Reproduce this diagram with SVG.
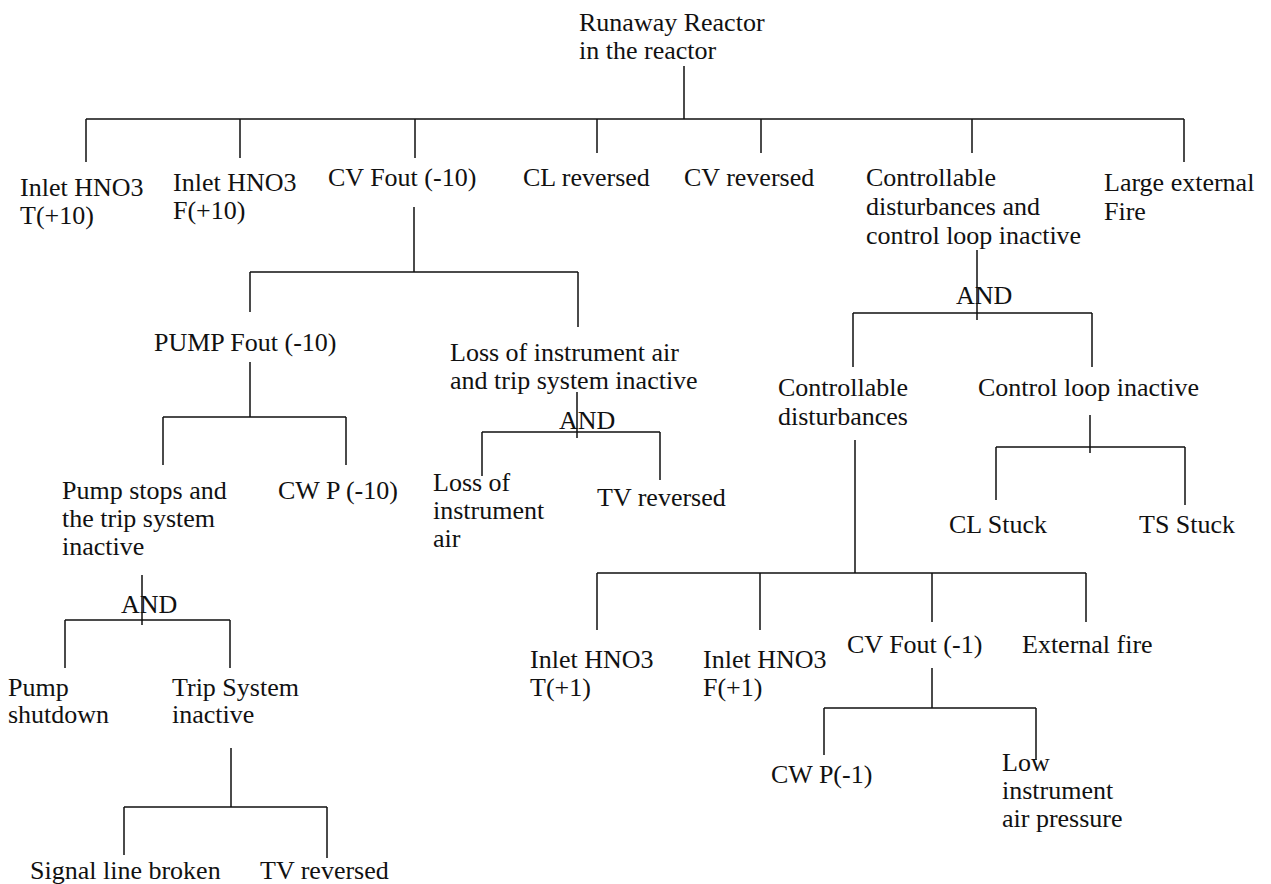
<svg xmlns="http://www.w3.org/2000/svg" width="1271" height="884" viewBox="0 0 1271 884">
<style>
  text { font-family: "Liberation Serif", "Times New Roman", serif; font-size: 26px; fill: #111; }
  .wire { stroke: #111; stroke-width: 1.5; fill: none; }
</style>
<rect width="1271" height="884" fill="#fff"/>

<!-- connectors: fault tree branches -->
<g id="connectors" class="wire">
  <!-- top event -->
  <path d="M684,66 V119 M86,119 H1184 M86,119 V162 M240,119 V158 M415,119 V158 M597,119 V153 M761,119 V153 M972,119 V153 M1184,119 V162"/>
  <!-- CV Fout (-10) -->
  <path d="M414,207 V272 M250,272 H578 M250,272 V312 M578,272 V327"/>
  <!-- PUMP Fout (-10) -->
  <path d="M250,362 V417 M163,417 H346 M163,417 V465 M346,417 V465"/>
  <!-- Pump stops and trip system inactive (AND) -->
  <path d="M142,575 V625 M65,620 H230 M65,620 V668 M230,620 V668"/>
  <!-- Trip System inactive -->
  <path d="M231,748 V807 M124,807 H327 M124,807 V855 M327,807 V858"/>
  <!-- Loss of instrument air and trip system inactive (AND) -->
  <path d="M577,392 V438 M482,432 H660 M482,432 V476 M660,432 V480"/>
  <!-- Controllable disturbances and control loop inactive (AND) -->
  <path d="M977,250 V320 M853,313 H1092 M853,313 V367 M1092,313 V367"/>
  <!-- Control loop inactive -->
  <path d="M1090,415 V453 M996,447 H1185 M996,447 V500 M1185,447 V505"/>
  <!-- Controllable disturbances -->
  <path d="M855,440 V573 M597,573 H1086 M597,573 V630 M760,573 V630 M932,573 V622 M1086,573 V622"/>
  <!-- CV Fout (-1) -->
  <path d="M932,668 V708 M824,708 H1036 M824,708 V755 M1036,708 V760"/>
</g>

<g id="top-event"><text x="579" y="31">Runaway Reactor</text><text x="579" y="59">in the reactor</text></g>

<g id="inlet-t10"><text x="20" y="196">Inlet HNO3</text><text x="20" y="224">T(+10)</text></g>
<g id="inlet-f10"><text x="173" y="191">Inlet HNO3</text><text x="173" y="219">F(+10)</text></g>
<g id="cv-fout-10"><text x="328" y="186">CV Fout (-10)</text></g>
<g id="cl-reversed"><text x="523" y="186">CL reversed</text></g>
<g id="cv-reversed"><text x="684" y="186">CV reversed</text></g>
<g id="ctrl-dist-and-loop"><text x="866" y="186">Controllable</text><text x="866" y="215">disturbances and</text><text x="866" y="244">control loop inactive</text></g>
<g id="large-fire"><text x="1104" y="191">Large external</text><text x="1104" y="220">Fire</text></g>

<g id="pump-fout"><text x="154" y="351">PUMP Fout (-10)</text></g>
<g id="loss-air-trip"><text x="450" y="361">Loss of instrument air</text><text x="450" y="389">and trip system inactive</text><text x="559" y="429">AND</text></g>

<g id="pump-stops"><text x="62" y="499">Pump stops and</text><text x="62" y="527">the trip system</text><text x="62" y="555">inactive</text><text x="121" y="613">AND</text></g>
<g id="cw-p-10"><text x="278" y="499">CW P (-10)</text></g>
<g id="loss-air"><text x="433" y="491">Loss of</text><text x="433" y="519">instrument</text><text x="433" y="547">air</text></g>
<g id="tv-reversed-1"><text x="597" y="506">TV reversed</text></g>

<g id="pump-shutdown"><text x="8" y="696">Pump</text><text x="8" y="723">shutdown</text></g>
<g id="trip-inactive"><text x="172" y="696">Trip System</text><text x="172" y="723">inactive</text></g>
<g id="signal-broken"><text x="30" y="879">Signal line broken</text></g>
<g id="tv-reversed-2"><text x="260" y="879">TV reversed</text></g>

<g id="and-right"><text x="956" y="304">AND</text></g>
<g id="ctrl-dist"><text x="778" y="396">Controllable</text><text x="778" y="425">disturbances</text></g>
<g id="ctrl-loop"><text x="978" y="396">Control loop inactive</text></g>
<g id="cl-stuck"><text x="949" y="533">CL Stuck</text></g>
<g id="ts-stuck"><text x="1139" y="533">TS Stuck</text></g>

<g id="inlet-t1"><text x="530" y="668">Inlet HNO3</text><text x="530" y="696">T(+1)</text></g>
<g id="inlet-f1"><text x="703" y="668">Inlet HNO3</text><text x="703" y="696">F(+1)</text></g>
<g id="cv-fout-1"><text x="847" y="653">CV Fout (-1)</text></g>
<g id="external-fire"><text x="1022" y="653">External fire</text></g>
<g id="cw-p-1"><text x="771" y="783">CW P(-1)</text></g>
<g id="low-air"><text x="1002" y="771">Low</text><text x="1002" y="799">instrument</text><text x="1002" y="827">air pressure</text></g>
</svg>
